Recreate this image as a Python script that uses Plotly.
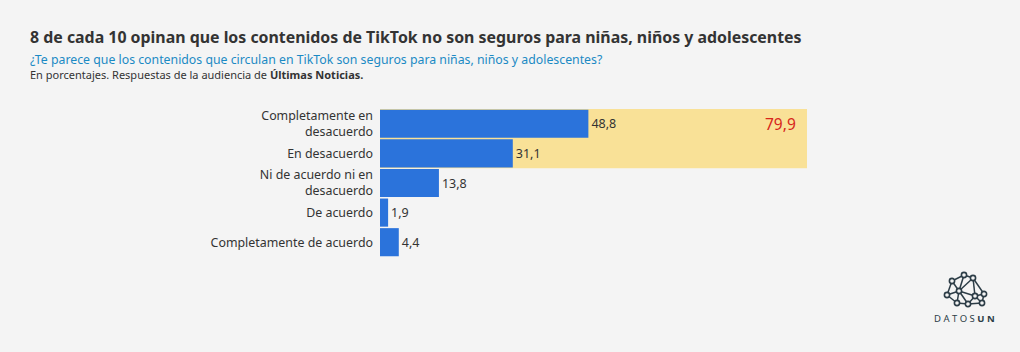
import plotly.graph_objects as go

categories = ["Completamente en<br>desacuerdo", "En desacuerdo", "Ni de acuerdo ni en<br>desacuerdo",
              "De acuerdo", "Completamente de acuerdo"]
values = [48.8, 31.1, 13.8, 1.9, 4.4]
highlight_total = round(values[0] + values[1], 1)

W, H = 1020, 352
L, R, T, B = 380, 213, 109, 95
PW, PH = W - L - R, H - T - B

def px(x):
    return (x - L) / PW

def py(y):
    return (H - B - y) / PH

FONT = "Noto Sans"
DARK = "#333333"
BLUE = "#2b73db"

fig = go.Figure()
fig.add_trace(go.Bar(
    y=categories, x=values, orientation="h",
    marker=dict(color=BLUE, line=dict(width=0)),
    text=values, texttemplate="%{x:.1f}", textposition="outside",
    textfont=dict(family=FONT, size=12.5, color=DARK),
    cliponaxis=False, hoverinfo="skip",
))

shapes = [dict(type="rect", xref="x", yref="y", x0=0, x1=100, y0=-0.5, y1=1.5,
               fillcolor="#f9e197", line=dict(width=0), layer="below")]

# logo network
nodes = [(964, 275), (952, 281), (973, 278), (947, 295), (959, 291),
         (975, 296), (984, 294), (957, 303), (968, 304), (982, 303)]
edges = [(0, 1), (0, 2), (1, 3), (1, 4), (0, 4), (2, 4), (2, 5), (2, 6), (3, 4),
         (3, 7), (4, 7), (4, 5), (5, 6), (5, 8), (5, 9), (6, 9), (7, 8), (8, 9), (4, 8)]
LC = "#2d3d47"
for a, b in edges:
    shapes.append(dict(type="line", xref="paper", yref="paper",
                       x0=px(nodes[a][0]), y0=py(nodes[a][1]),
                       x1=px(nodes[b][0]), y1=py(nodes[b][1]),
                       line=dict(color=LC, width=1.5)))
for (x, y) in nodes:
    r = 2.6
    shapes.append(dict(type="circle", xref="paper", yref="paper",
                       x0=px(x - r), x1=px(x + r), y0=py(y + r), y1=py(y - r),
                       fillcolor="#f4f4f4", line=dict(color=LC, width=1.6)))

annotations = [
    dict(text="<b>8 de cada 10 opinan que los contenidos de TikTok no son seguros para niñas, niños y adolescentes</b>",
         x=px(28), y=py(37), xref="paper", yref="paper", xanchor="left", yanchor="middle",
         showarrow=False, font=dict(family=FONT, size=15.9, color=DARK)),
    dict(text="¿Te parece que los contenidos que circulan en TikTok son seguros para niñas, niños y adolescentes?",
         x=px(28), y=py(60), xref="paper", yref="paper", xanchor="left", yanchor="middle",
         showarrow=False, font=dict(family=FONT, size=12.3, color="#1b8ac4")),
    dict(text="En porcentajes. Respuestas de la audiencia de <b>Últimas Noticias.</b>",
         x=px(28), y=py(75), xref="paper", yref="paper", xanchor="left", yanchor="middle",
         showarrow=False, font=dict(family=FONT, size=11, color=DARK)),
    dict(text=f"{highlight_total:.1f}".replace(".", ","), x=98, y=0, xref="x", yref="y",
         xanchor="right", yanchor="middle", showarrow=False,
         font=dict(family=FONT, size=15.5, color="#d7261b")),
    dict(text="D A T O S <b>U N</b>", x=px(964), y=py(318), xref="paper", yref="paper",
         xanchor="center", yanchor="middle", showarrow=False,
         font=dict(family=FONT, size=9.5, color=LC)),
]

fig.update_layout(
    width=W, height=H,
    margin=dict(l=L, r=R, t=T, b=B, pad=0),
    paper_bgcolor="#f4f4f4", plot_bgcolor="#f4f4f4",
    bargap=0.05, showlegend=False,
    separators=",.",
    xaxis=dict(range=[0, 100], visible=False, fixedrange=True),
    yaxis=dict(autorange="reversed", showgrid=False, showline=False, zeroline=False,
               ticks="", ticklabelstandoff=6,
               tickfont=dict(family=FONT, size=12.4, color=DARK)),
    shapes=shapes, annotations=annotations,
)

fig.write_html("out.html")
